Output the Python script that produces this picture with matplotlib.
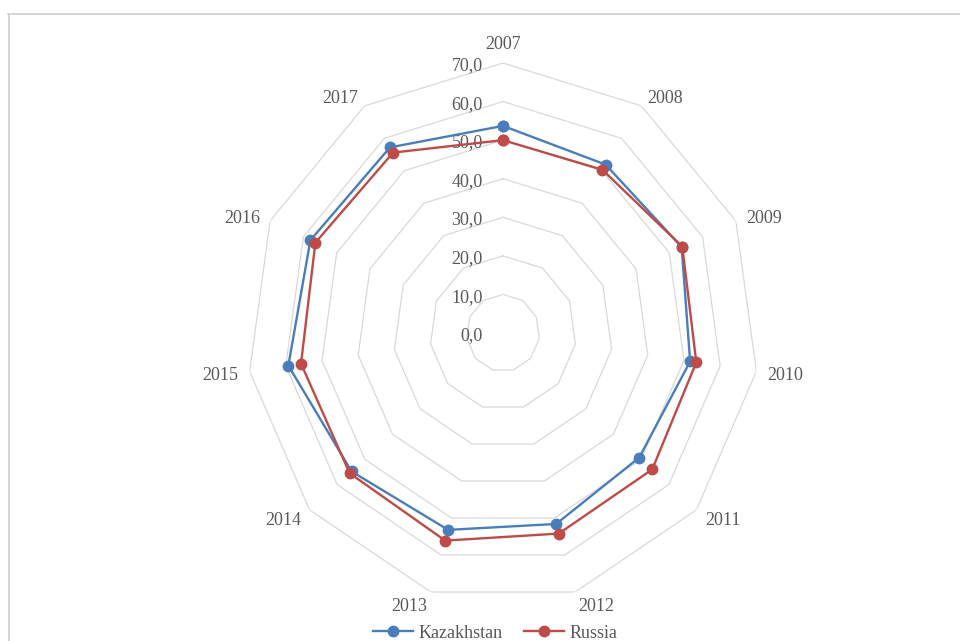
import numpy as np
import matplotlib.pyplot as plt
from matplotlib.lines import Line2D

years = ['2007', '2008', '2009', '2010', '2011', '2012', '2013', '2014', '2015', '2016', '2017']
kazakhstan = [53.7, 51.9, 53.7, 51.7, 49.3, 51.6, 53.2, 54.8, 59.3, 57.9, 57.2]
russia = [50.0, 50.3, 53.9, 53.4, 54.0, 54.2, 56.1, 55.5, 55.8, 56.4, 55.6]
rings = [10, 20, 30, 40, 50, 60, 70]
ring_labels = ['0,0', '10,0', '20,0', '30,0', '40,0', '50,0', '60,0', '70,0']

plt.rcParams['font.family'] = ['Liberation Serif', 'DejaVu Serif']

n = len(years)
angles = np.linspace(0, 2 * np.pi, n, endpoint=False)
closed = np.append(angles, angles[0])

fig = plt.figure(figsize=(9.6, 6.41), dpi=100)
ax = fig.add_axes([0.2573, 0.0593, 0.5333, 0.8424], projection='polar')
ax.set_theta_zero_location('N')
ax.set_theta_direction(-1)
ax.set_aspect('auto')
ax.set_ylim(0, 70)
ax.grid(False)
ax.spines['polar'].set_visible(False)
ax.set_xticks([])
ax.set_yticks([])

# polygon grid
for r in rings:
    ax.plot(closed, [r] * (n + 1), color='#d9d9d9', lw=0.9, zorder=1)

# value labels along the top spoke
for i, lab in enumerate(ring_labels):
    ax.annotate(lab, xy=(0, i * 10), xytext=(-14.5, -2), textcoords='offset points',
                ha='right', va='center', fontsize=13, color='#595959')

# category labels, anchored just outside the outer ring
for a, y in zip(angles, years):
    s, c = np.sin(a), np.cos(a)
    ha = 'left' if s > 0.05 else ('right' if s < -0.05 else 'center')
    va = 'bottom' if c > 0.9 else 'center'
    ax.annotate(y, xy=(a, 70), xytext=(8 * s, 9 * c - 2), textcoords='offset points',
                ha=ha, va=va, fontsize=13, color='#595959')

ax.plot(closed, kazakhstan + kazakhstan[:1], color='#4a7ebb', lw=1.7,
        marker='o', ms=7.5, zorder=3, label='Kazakhstan')
ax.plot(closed, russia + russia[:1], color='#be4b48', lw=1.7,
        marker='o', ms=7.5, zorder=4, label='Russia')

fig.legend(loc='center', bbox_to_anchor=(0.516, 0.012), ncol=2, frameon=False,
           fontsize=13, handlelength=2.2, columnspacing=1.2, handletextpad=0.3,
           labelcolor='#595959', borderaxespad=0)

# chart border
fig.add_artist(Line2D([8 / 960, 1], [1 - 13.5 / 641, 1 - 13.5 / 641], color='#d0d0d0', lw=1.2))
fig.add_artist(Line2D([8.5 / 960, 8.5 / 960], [0, 1 - 13.5 / 641], color='#d0d0d0', lw=1.2))

fig.savefig('out.png')
